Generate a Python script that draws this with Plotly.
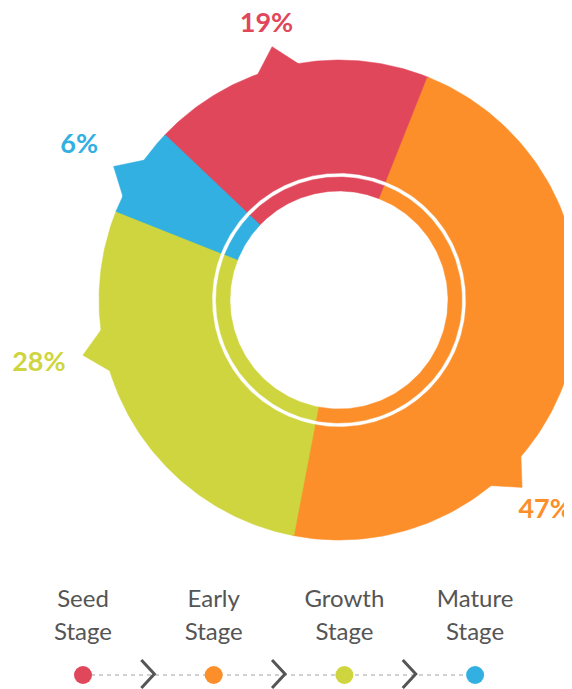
import numpy as np
import plotly.graph_objects as go

# ---------------- data ----------------
stages = ["Seed Stage", "Early Stage", "Growth Stage", "Mature Stage"]
shares = [19, 47, 28, 6]
colors = ["#E0475A", "#FC8F2A", "#CED53E", "#31B0E1"]
# position of the % label / pointer along each slice (fraction of slice span)
label_pos = [0.465, 0.673, 0.663, 0.41]
# distance of each % label from the donut centre (px)
label_r = [284, 295, 307, 302]

# ---------------- layout constants ----------------
W, H = 572, 689
OFF = 8                # page body margin offset
CX, CY = 339, 300
R_OUT, R_MID_OUT = 240, 127
R_IN_OUT, R_IN_IN = 123, 109
START = 313.4          # degrees clockwise from 12 o'clock where first slice begins
TAB_HALF, TAB_TIP = 5.5, 262
LEG_X0, LEG_DX = 83, 130.7
LEG_Y1, LEG_Y2, LEG_DOT = 601, 634, 675


def pt(r, deg):
    a = np.radians(deg)
    return CX + r * np.sin(a), CY - r * np.cos(a)


def ring(r1, r2, a0, a1, n=120):
    th = np.linspace(a0, a1, n)
    xo, yo = pt(r2, th)
    xi, yi = pt(r1, th[::-1])
    return np.concatenate([xo, xi, xo[:1]]), np.concatenate([yo, yi, yo[:1]])


fig = go.Figure()
total = sum(shares)
cum = START
for name, v, c, lp, lr in zip(stages, shares, colors, label_pos, label_r):
    span = 360 * v / total
    a0, a1 = cum - 0.15, cum + span + 0.15
    # outer ring
    x, y = ring(R_MID_OUT, R_OUT, a0, a1)
    fig.add_trace(go.Scatter(x=x, y=y, mode="lines", fill="toself", fillcolor=c,
                             line=dict(color=c, width=0.5), hoverinfo="skip"))
    # inner thin ring
    x, y = ring(R_IN_IN, R_IN_OUT, a0, a1)
    fig.add_trace(go.Scatter(x=x, y=y, mode="lines", fill="toself", fillcolor=c,
                             line=dict(color=c, width=0.5), hoverinfo="skip"))
    # pointer tab
    la = cum + span * lp
    bx0, by0 = pt(R_OUT - 2, la - TAB_HALF)
    tx, ty = pt(TAB_TIP, la)
    bx1, by1 = pt(R_OUT - 2, la + TAB_HALF)
    fig.add_trace(go.Scatter(x=[bx0, tx, bx1, bx0], y=[by0, ty, by1, by0], mode="lines",
                             fill="toself", fillcolor=c, line=dict(color=c, width=0.5),
                             hoverinfo="skip"))
    # percentage label
    lx, ly = pt(lr, la)
    fig.add_trace(go.Scatter(x=[lx], y=[ly], mode="text", text=[f"{v}%"], cliponaxis=False,
                             textfont=dict(family="Lato", size=27, color=c, weight="bold"),
                             textposition="middle center", hoverinfo="skip"))
    cum += span

# ---------------- stage legend ----------------
n = len(stages)
leg_x = [LEG_X0 + i * LEG_DX for i in range(n)]
fig.add_trace(go.Scatter(x=[leg_x[0], leg_x[-1]], y=[LEG_DOT, LEG_DOT], mode="lines",
                         line=dict(color="#D0D0D0", width=2, dash="4px,4px"), hoverinfo="skip"))
for i in range(n - 1):
    mx = (leg_x[i] + leg_x[i + 1]) / 2
    fig.add_trace(go.Scatter(x=[mx - 7, mx + 6, mx - 7], y=[LEG_DOT - 15, LEG_DOT - 1, LEG_DOT + 13],
                             mode="lines", line=dict(color="#555555", width=3), hoverinfo="skip"))
fig.add_trace(go.Scatter(x=leg_x, y=[LEG_DOT] * n, mode="markers", cliponaxis=False,
                         marker=dict(size=18, color=colors, line=dict(width=0)), hoverinfo="skip"))
words1 = [s.split(" ")[0] for s in stages]
words2 = [s.split(" ")[1] for s in stages]
fig.add_trace(go.Scatter(x=leg_x, y=[LEG_Y1] * n, mode="text", text=words1, cliponaxis=False,
                         textfont=dict(family="Lato", size=24, color="#555555"), hoverinfo="skip"))
fig.add_trace(go.Scatter(x=leg_x, y=[LEG_Y2] * n, mode="text", text=words2, cliponaxis=False,
                         textfont=dict(family="Lato", size=24, color="#555555"), hoverinfo="skip"))

fig.update_layout(
    width=W, height=H, autosize=False,
    margin=dict(l=0, r=0, t=0, b=0, pad=0),
    paper_bgcolor="white", plot_bgcolor="white",
    showlegend=False,
    xaxis=dict(range=[OFF, W + OFF], visible=False, fixedrange=True),
    yaxis=dict(range=[H + OFF, OFF], visible=False, fixedrange=True),
)
fig.write_html("out.html")
